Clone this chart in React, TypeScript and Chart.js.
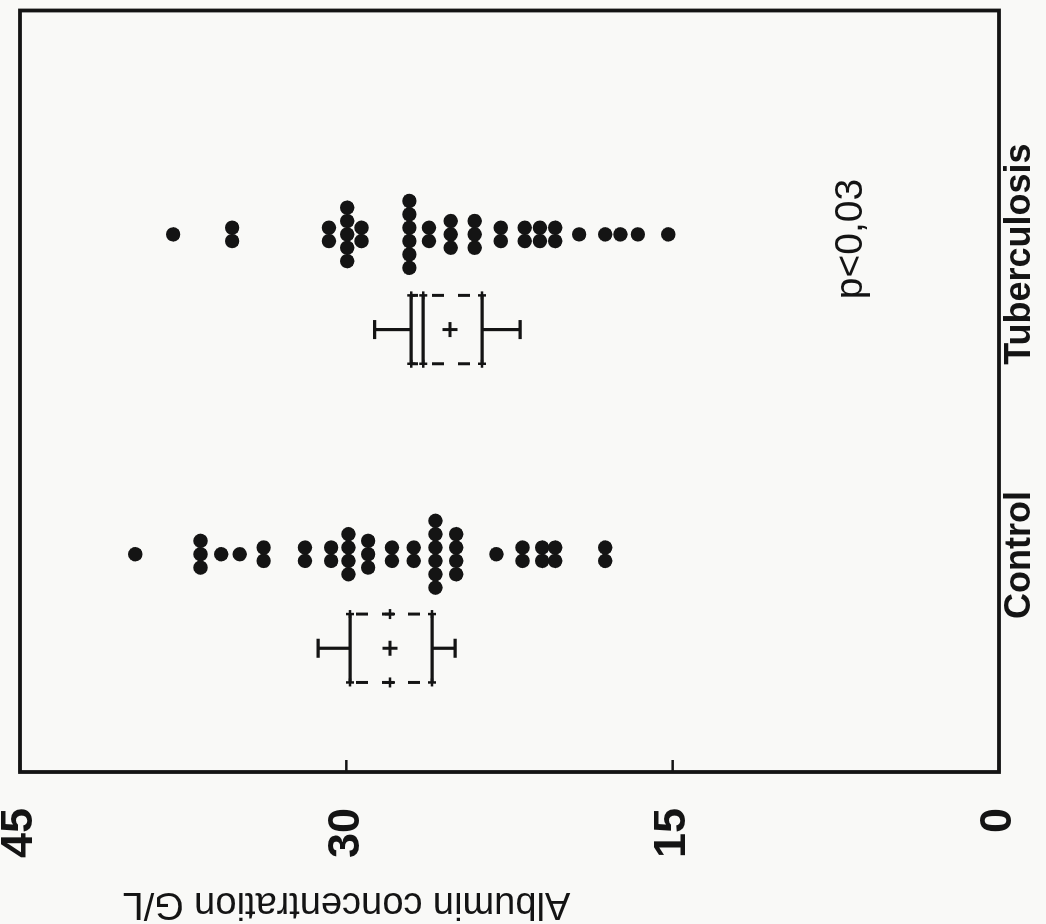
import React, { useEffect, useRef } from 'react';
import { Chart, registerables } from 'chart.js';

Chart.register(...registerables);

// ---------- data ----------
const CATEGORIES = ['Control', 'Tuberculosis'];
const CATEGORY_X = [2.85, 6.8];
const DOT_X = [2.86, 7.06];
const BOX_X = [1.625, 5.81];

const CONTROL_LEVELS = [39.7, 36.7, 35.75, 34.9, 33.8, 31.9, 30.7, 29.9, 29.0, 27.9, 26.9, 25.9, 24.95, 23.1, 21.9, 21.0, 20.4, 18.1];
const CONTROL_COUNTS = [1, 3, 1, 1, 2, 2, 2, 4, 3, 2, 2, 6, 4, 1, 2, 2, 2, 2];

const TB_LEVELS = [37.96, 35.25, 30.8, 29.96, 29.3, 27.1, 26.2, 25.2, 24.1, 22.9, 21.8, 21.1, 20.4, 19.3, 18.1, 17.4, 16.6, 15.2];
const TB_COUNTS = [1, 2, 2, 5, 2, 6, 2, 3, 3, 2, 2, 2, 2, 1, 1, 1, 1, 1];

const WHISKER_HIGH = [31.3, 28.7];
const BOX_HIGH = [29.83, 27.02];
const BOX_LOW = [26.06, 23.76];
const WHISKER_LOW = [25.0, 22.01];
const MEANS = [27.99, 25.23];
const SIDE_TICKS: (number | null)[] = [27.99, null];
const INNER_LINES: (number | null)[] = [null, 26.47];

const Y_TICKS = [0, 15, 30, 45];
const Y_MIN = 0;
const Y_MAX = 45;
const X_MIN = 0;
const X_MAX = 10;
const Y_TITLE = 'Albumin concentration G/L';
const TITLE_AT = 30;
const P_TEXT = 'p<0,03';
const P_X = 7.0;
const P_Y = 6.3;

// ---------- style ----------
const INK = '#141414';
const BG = '#f9f9f7';
const FONT = '"Liberation Sans", Arial, Helvetica, sans-serif';
const DOT_STEP = 0.1755;
const BOX_HALF = 0.449;
const CAP_HALF = 0.125;

type P = { x: number; y: number | null };

function swarm(levels: number[], counts: number[], center: number): P[] {
  const out: P[] = [];
  levels.forEach((v, i) => {
    const n = counts[i];
    for (let k = 0; k < n; k++) {
      out.push({ x: center + (k - (n - 1) / 2) * DOT_STEP, y: v });
    }
  });
  return out;
}

function seg(out: P[], x1: number, y1: number, x2: number, y2: number) {
  out.push({ x: x1, y: y1 }, { x: x2, y: y2 }, { x: x2, y: null });
}

function zeroPadding(s: any) {
  s.paddingTop = 0;
  s.paddingBottom = 0;
  s.paddingLeft = 0;
  s.paddingRight = 0;
}

export default function App() {
  const ref = useRef<HTMLCanvasElement>(null);

  useEffect(() => {
    const canvas = ref.current;
    if (!canvas) return;

    const solid: P[] = [];
    const dashed: P[] = [];
    const corners: P[] = [];
    const sideTicks: P[] = [];
    const means: P[] = [];

    BOX_X.forEach((c, i) => {
      const l = c - BOX_HALF;
      const r = c + BOX_HALF;
      seg(solid, l, BOX_HIGH[i], r, BOX_HIGH[i]);
      seg(solid, l, BOX_LOW[i], r, BOX_LOW[i]);
      seg(solid, c, BOX_HIGH[i], c, WHISKER_HIGH[i]);
      seg(solid, c, BOX_LOW[i], c, WHISKER_LOW[i]);
      seg(solid, c - CAP_HALF, WHISKER_HIGH[i], c + CAP_HALF, WHISKER_HIGH[i]);
      seg(solid, c - CAP_HALF, WHISKER_LOW[i], c + CAP_HALF, WHISKER_LOW[i]);
      const inner = INNER_LINES[i];
      if (inner !== null) seg(solid, l, inner, r, inner);
      seg(dashed, l, BOX_LOW[i], l, BOX_HIGH[i]);
      seg(dashed, r, BOX_LOW[i], r, BOX_HIGH[i]);
      corners.push({ x: l, y: BOX_LOW[i] }, { x: l, y: BOX_HIGH[i] }, { x: r, y: BOX_LOW[i] }, { x: r, y: BOX_HIGH[i] });
      if (inner !== null) corners.push({ x: l, y: inner }, { x: r, y: inner });
      const st = SIDE_TICKS[i];
      if (st !== null) sideTicks.push({ x: l, y: st }, { x: r, y: st });
      means.push({ x: c, y: MEANS[i] });
    });

    const dots = [
      ...swarm(CONTROL_LEVELS, CONTROL_COUNTS, DOT_X[0]),
      ...swarm(TB_LEVELS, TB_COUNTS, DOT_X[1]),
    ];

    const overlay = {
      id: 'overlay',
      afterDatasetsDraw(chart: any) {
        const { ctx, chartArea: a, scales } = chart;
        const x = scales.x;
        const y = scales.y;
        ctx.save();
        ctx.strokeStyle = INK;
        ctx.lineWidth = 3.8;
        ctx.strokeRect(a.left, a.top, a.right - a.left, a.bottom - a.top);
        ctx.lineWidth = 2.5;
        y.ticks.forEach((t: any) => {
          const py = y.getPixelForValue(t.value);
          ctx.beginPath();
          ctx.moveTo(a.left, py);
          ctx.lineTo(a.left + 12, py);
          ctx.stroke();
        });
        ctx.restore();

        ctx.save();
        ctx.fillStyle = INK;
        ctx.font = `38px ${FONT}`;
        ctx.textAlign = 'center';
        ctx.textBaseline = 'alphabetic';
        ctx.translate(31, y.getPixelForValue(TITLE_AT));
        ctx.rotate(-Math.PI / 2);
        ctx.fillText(Y_TITLE, 0, 0);
        ctx.restore();

        ctx.save();
        ctx.fillStyle = INK;
        ctx.font = `39px ${FONT}`;
        ctx.textAlign = 'center';
        ctx.textBaseline = 'alphabetic';
        ctx.fillText(P_TEXT, x.getPixelForValue(P_X), y.getPixelForValue(P_Y));
        ctx.restore();
      },
    };

    const chart = new Chart(canvas, {
      type: 'scatter',
      data: {
        datasets: [
          {
            data: solid as any,
            showLine: true,
            spanGaps: false,
            pointRadius: 0,
            borderColor: INK,
            borderWidth: 3.2,
            borderCapStyle: 'butt',
          } as any,
          {
            data: dashed as any,
            showLine: true,
            spanGaps: false,
            pointRadius: 0,
            borderColor: INK,
            borderWidth: 3,
            borderDash: [12, 14],
            borderDashOffset: 40,
          } as any,
          {
            data: corners as any,
            pointStyle: 'cross',
            pointRadius: 4,
            borderColor: INK,
            borderWidth: 2.5,
          } as any,
          {
            data: sideTicks as any,
            pointStyle: 'cross',
            pointRadius: 5,
            borderColor: INK,
            borderWidth: 2.5,
          } as any,
          {
            data: means as any,
            pointStyle: 'cross',
            pointRadius: 7.5,
            borderColor: INK,
            borderWidth: 3,
          } as any,
          {
            data: dots as any,
            pointStyle: 'circle',
            pointRadius: 7.2,
            backgroundColor: INK,
            borderWidth: 0,
          } as any,
        ],
      },
      options: {
        animation: false,
        responsive: false,
        devicePixelRatio: 1,
        events: [],
        layout: { padding: { top: 20, right: 3, left: 0, bottom: 0 } },
        plugins: { legend: { display: false }, tooltip: { enabled: false } },
        scales: {
          x: {
            type: 'linear',
            min: X_MIN,
            max: X_MAX,
            afterBuildTicks: (s: any) => {
              s.ticks = CATEGORY_X.map((v) => ({ value: v }));
            },
            afterFit: (s: any) => {
              s.height = 47;
              zeroPadding(s);
            },
            ticks: {
              autoSkip: false,
              maxRotation: 0,
              minRotation: 0,
              padding: 3,
              color: INK,
              font: { family: FONT, size: 36, weight: 'bold', lineHeight: 1 },
              callback: (_v: any, i: number) => CATEGORIES[i],
            },
            grid: { display: false, drawTicks: false },
            border: { display: false },
          },
          y: {
            type: 'linear',
            min: Y_MIN,
            max: Y_MAX,
            afterBuildTicks: (s: any) => {
              s.ticks = Y_TICKS.map((v) => ({ value: v }));
            },
            afterFit: (s: any) => {
              s.width = 152;
              zeroPadding(s);
            },
            ticks: {
              padding: 36,
              color: INK,
              font: { family: FONT, size: 45, weight: 'bold', lineHeight: 0.85 },
            },
            grid: { display: false, drawTicks: false },
            border: { display: false },
          },
        },
      } as any,
      plugins: [overlay],
    });

    return () => chart.destroy();
  }, []);

  return (
    <div
      style={{
        position: 'fixed',
        left: 0,
        top: 0,
        width: 1046,
        height: 924,
        overflow: 'hidden',
        background: BG,
      }}
    >
      <div
        style={{
          position: 'absolute',
          left: 0,
          top: 0,
          width: 924,
          height: 1046,
          transformOrigin: '0 0',
          transform: 'translate(0px, 924px) rotate(-90deg)',
        }}
      >
        <canvas ref={ref} width={924} height={1046} style={{ width: 924, height: 1046, display: 'block' }} />
      </div>
    </div>
  );
}
